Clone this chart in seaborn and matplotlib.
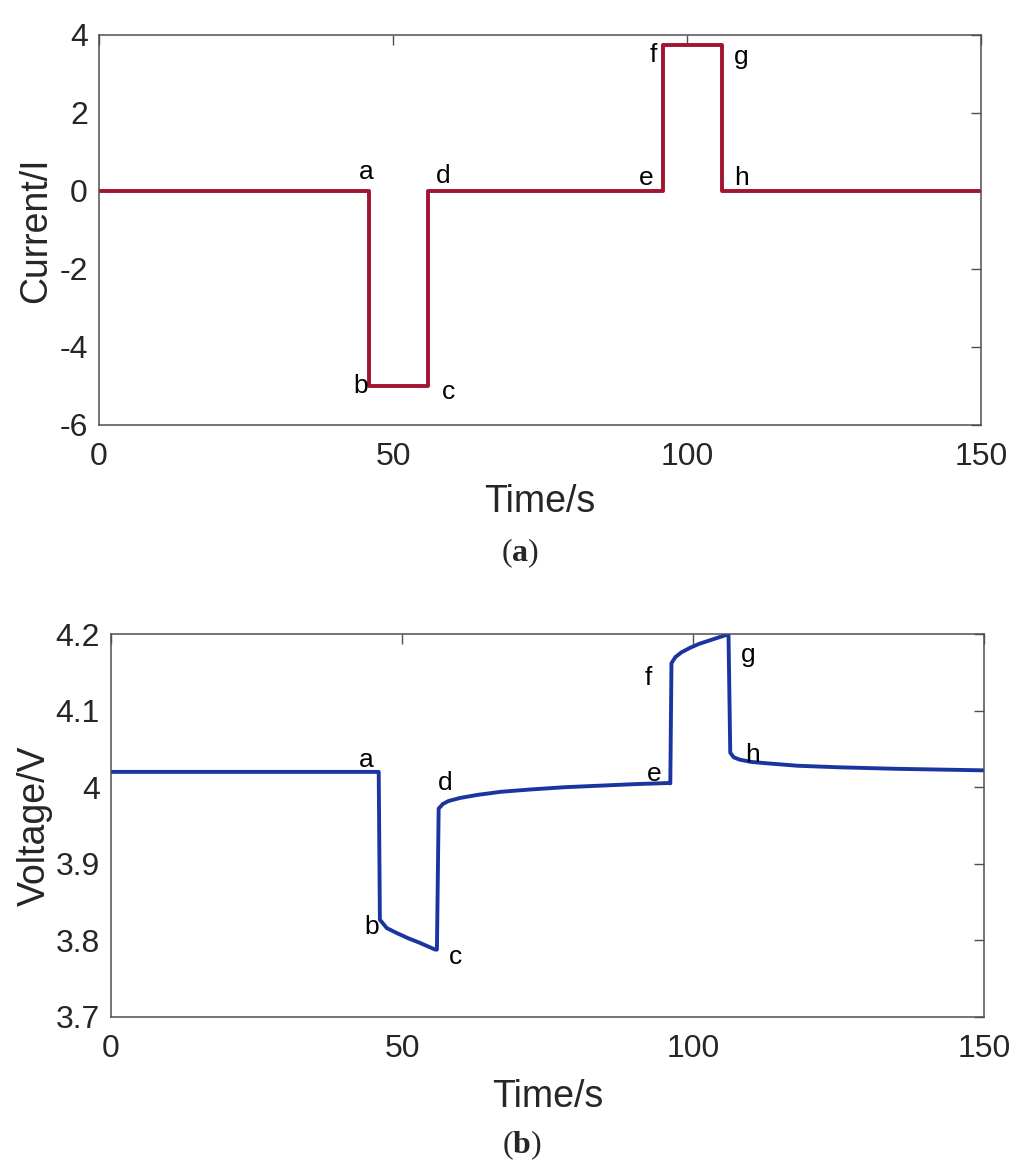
import numpy as np
import pandas as pd
import matplotlib
matplotlib.use("Agg")
import matplotlib.pyplot as plt
from matplotlib.ticker import FormatStrFormatter
import seaborn as sns

# 전류 펄스 (a-b-c-d 방전, e-f-g-h 충전)
current_time = [0, 46, 46, 56, 56, 96, 96, 106, 106, 150]
current_value = [0, 0, -5, -5, 0, 0, 3.75, 3.75, 0, 0]

# 단자 전압 응답
voltage_time = [0, 46, 46.2, 47.4, 49, 51, 53, 55.7, 56.0, 56.3, 57.0, 58, 60, 63, 67,
                72, 78, 84, 90, 96, 96.1, 96.3, 97.0, 98, 99.5, 101, 103, 105.8, 106.1,
                106.4, 107, 108, 110, 113, 118, 125, 135, 150]
voltage_value = [4.020, 4.020, 3.827, 3.816, 3.810, 3.803, 3.797, 3.788, 3.788, 3.972,
                 3.978, 3.982, 3.986, 3.990, 3.994, 3.997, 4.000, 4.002, 4.004, 4.0055,
                 4.005, 4.162, 4.170, 4.176, 4.182, 4.187, 4.192, 4.199, 4.199, 4.045,
                 4.039, 4.036, 4.033, 4.031, 4.028, 4.026, 4.024, 4.022]

point_names = ["a", "b", "c", "d", "e", "f", "g", "h"]
current_anchor_t = [46, 46, 56, 56, 96, 96, 106, 106]
current_anchor_v = [0, -5, -5, 0, 0, 3.75, 3.75, 0]
voltage_anchor_t = [46, 46.2, 56, 57.0, 96, 96.3, 105.8, 106.4]
voltage_anchor_v = [4.020, 3.827, 3.788, 3.978, 4.0055, 4.162, 4.199, 4.045]

current_ticks = [-6, -4, -2, 0, 2, 4]
voltage_ticks = [3.7, 3.8, 3.9, 4.0, 4.1, 4.2]
time_ticks = [0, 50, 100, 150]

# 라벨 오프셋 (픽셀, 위쪽 +)
current_offsets = [(-3, 19), (-9, 0), (20, -6), (15, 15), (-17, 13), (-10, -10), (19, -12), (19, 13)]
voltage_offsets = [(-12, 12), (-8, -7), (19, -7), (2, 21), (-16, 9), (-23, -15), (21, -20), (22, -2)]

sns.set_style("white")
plt.rcParams['font.family'] = ['Liberation Sans', 'DejaVu Sans']
plt.rcParams['axes.unicode_minus'] = False
plt.rcParams['mathtext.fontset'] = 'custom'
plt.rcParams['mathtext.rm'] = 'Liberation Serif'
plt.rcParams['mathtext.bf'] = 'Liberation Serif:bold'

DPI = 100
fig = plt.figure(figsize=(10.30, 11.74), dpi=DPI)
ax1 = fig.add_axes([99 / 1030, 1 - 425 / 1174, 882 / 1030, 390 / 1174])
ax2 = fig.add_axes([111 / 1030, 1 - 1017 / 1174, 873 / 1030, 383 / 1174])

cur_df = pd.DataFrame({"t": current_time, "I": current_value})
volt_df = pd.DataFrame({"t": voltage_time, "V": voltage_value})

sns.lineplot(data=cur_df, x="t", y="I", ax=ax1, color="#A2142F", lw=2.8,
             estimator=None, sort=False)
sns.lineplot(data=volt_df, x="t", y="V", ax=ax2, color="#1B35A0", lw=2.8,
             estimator=None, sort=False)

px = 72 / DPI
for ax, ts, vs, offs in [(ax1, current_anchor_t, current_anchor_v, current_offsets),
                         (ax2, voltage_anchor_t, voltage_anchor_v, voltage_offsets)]:
    for name, t, v, (dx, dy) in zip(point_names, ts, vs, offs):
        ax.annotate(name, (t, v), xytext=(dx * px, dy * px), textcoords="offset points",
                    ha="center", va="center", fontsize=19, color="black")

spine_c = "#505050"
for ax in (ax1, ax2):
    ax.set_xlim(0, 150)
    ax.set_xticks(time_ticks)
    for s in ax.spines.values():
        s.set_visible(True)
        s.set_color(spine_c)
        s.set_linewidth(1.1)
    ax.tick_params(direction="in", top=True, right=True, length=7, width=1.0,
                   color=spine_c, labelsize=23, labelcolor="#262626")
    ax.tick_params(axis="x", pad=12)
    ax.tick_params(axis="y", pad=8)
    ax.set_xlabel("Time/s", fontsize=27, color="#262626", va="center")

ax1.set_ylim(-6, 4)
ax1.set_yticks(current_ticks)
ax1.set_ylabel("Current/I", fontsize=27, color="#262626", va="center")
ax1.yaxis.set_label_coords(-0.0714, 0.5)
ax1.xaxis.set_label_coords(0.5, -0.197)

ax2.set_ylim(3.7, 4.2)
ax2.set_yticks(voltage_ticks)
ax2.yaxis.set_major_formatter(FormatStrFormatter("%g"))
ax2.set_ylabel("Voltage/V", fontsize=27, color="#262626", va="center")
ax2.yaxis.set_label_coords(-0.087, 0.5)
ax2.xaxis.set_label_coords(0.5, -0.209)

fig.text(520 / 1030, 1 - 553 / 1174, r"$\mathrm{(}\mathbf{a}\mathrm{)}$",
         ha="center", va="center", fontsize=23)
fig.text(522 / 1030, 1 - 1145 / 1174, r"$\mathrm{(}\mathbf{b}\mathrm{)}$",
         ha="center", va="center", fontsize=23)

fig.savefig("out.png", dpi=DPI)
plt.close(fig)
